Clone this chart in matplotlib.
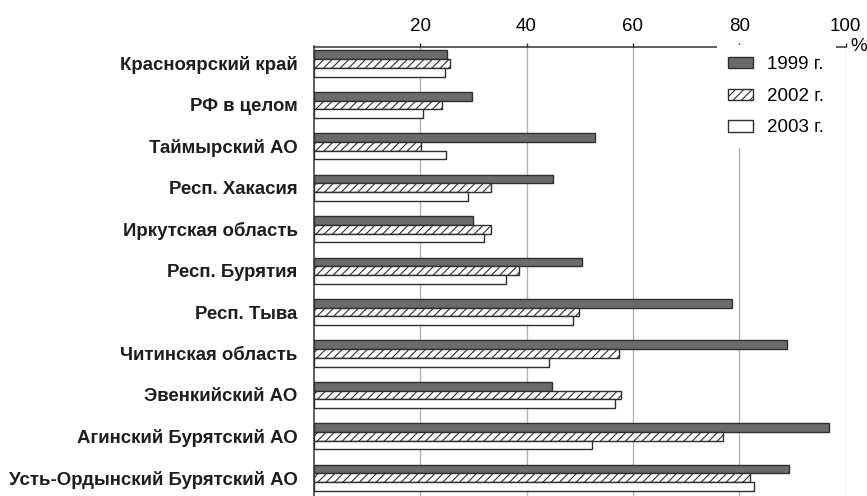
import matplotlib

matplotlib.use("Agg")
import matplotlib.pyplot as plt
import numpy as np

plt.rcParams["font.family"] = ["Liberation Sans", "DejaVu Sans"]
plt.rcParams["hatch.linewidth"] = 0.8

regions = [
    "Красноярский край",
    "РФ в целом",
    "Таймырский АО",
    "Респ. Хакасия",
    "Иркутская область",
    "Респ. Бурятия",
    "Респ. Тыва",
    "Читинская область",
    "Эвенкийский АО",
    "Агинский Бурятский АО",
    "Усть-Ордынский Бурятский АО",
]
years = ["1999 г.", "2002 г.", "2003 г."]
v1999 = [25.1, 29.8, 52.8, 45.0, 29.9, 50.5, 78.6, 88.9, 44.8, 96.9, 89.4]
v2002 = [25.6, 24.1, 20.2, 33.4, 33.4, 38.5, 49.9, 57.3, 57.7, 77.0, 82.1]
v2003 = [24.7, 20.6, 24.9, 29.0, 32.1, 36.1, 48.7, 44.2, 56.7, 52.3, 82.8]
xticks = [20, 40, 60, 80, 100]

fig = plt.figure(figsize=(8.67, 4.96), dpi=100)
ax = fig.add_axes([313.7 / 867, 0.0, 532.0 / 867, 1 - 46.5 / 496])

y = np.arange(len(regions))
h = 0.21
edge = "#2e2e2e"
ax.barh(y - h, v1999, height=h, color="#6b6b6b", edgecolor=edge, linewidth=1.0, label=years[0])
ax.barh(y, v2002, height=h, color="white", edgecolor=edge, hatch="////", linewidth=1.0, label=years[1])
ax.barh(y + h, v2003, height=h, color="white", edgecolor=edge, linewidth=1.0, label=years[2])

ax.set_xlim(0, 100)
ax.set_ylim(10.44, -0.41)
ax.set_axisbelow(True)
ax.xaxis.tick_top()
ax.set_xticks(xticks)
ax.set_xticklabels([str(t) for t in xticks], fontsize=13.5)
ax.tick_params(axis="x", length=3, width=1, color="#333333", pad=5.5)
ax.grid(axis="x", color="#b4b4b4", linewidth=1.0)

ax.set_yticks(y)
ax.set_yticklabels(regions, fontsize=13.4, fontweight="bold", color="#1e1e1e")
ax.tick_params(axis="y", length=0, pad=11.5)

for s in ["right", "bottom"]:
    ax.spines[s].set_visible(False)
for s in ["top", "left"]:
    ax.spines[s].set_color("#333333")
    ax.spines[s].set_linewidth(1.1)

fig.text(850 / 867, 1 - 46.5 / 496, "%", fontsize=13.5, ha="left", va="center")

leg = ax.legend(
    loc="upper left",
    bbox_to_anchor=(717 / 867, 1 - 45 / 496),
    bbox_transform=fig.transFigure,
    fontsize=13.5,
    frameon=True,
    fancybox=False,
    framealpha=1,
    edgecolor="none",
    facecolor="white",
    borderaxespad=0,
    borderpad=0.6,
    handlelength=1.33,
    handleheight=0.55,
    handletextpad=0.75,
    labelspacing=0.78,
)
leg.set_zorder(5)

fig.savefig("out.png", dpi=100)
